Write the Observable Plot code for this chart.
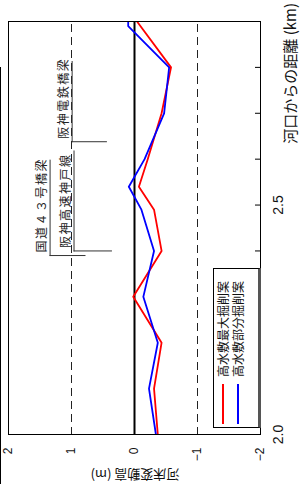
<!DOCTYPE html>
<html>
<head>
<meta charset="utf-8">
<script src="https://cdn.jsdelivr.net/npm/d3@7"></script>
<script src="https://cdn.jsdelivr.net/npm/@observablehq/plot@0.6"></script>
<style>
  html, body { margin: 0; padding: 0; background: #fff; overflow: hidden; }
  body { width: 301px; height: 484px; position: relative; }
  #wrap {
    position: absolute; left: 0; top: 0; width: 484px; height: 301px;
    transform-origin: 0 0; transform: translateY(484px) rotate(-90deg);
    font-family: "Noto Sans CJK JP", sans-serif; color: #111;
  }
  #chart { position: absolute; left: 0; top: 0; }
  g[aria-label="text"] text { letter-spacing: 1.5px; }
  .lbl { position: absolute; white-space: nowrap; font-family: "Noto Sans CJK JP", sans-serif; color: #111; }
  #legend {
    position: absolute; left: 56px; top: 213px; width: 158px; height: 44px;
    border: 1px solid #000; border-bottom: 3px solid #555; background: #fff;
  }
  .row { position: absolute; left: 3px; height: 14px; display: flex; align-items: center; }
  .sw { width: 40px; height: 0; border-top: 2.5px solid; margin-right: 7px; }
  .row span { font-size: 12px; line-height: 14px; }
  #outer { position: absolute; left: 0; top: 0; width: 417px; height: 0; border-top: 1.5px solid #000; }
</style>
</head>
<body>
<div id="wrap">
  <div id="outer"></div>
  <div id="chart"></div>
</div>
<script>
// distance from river mouth (km)
const maxCutKm   = [2.0, 2.1, 2.2, 2.3, 2.4, 2.49, 2.54, 2.6, 2.7, 2.8, 2.9];
const maxCutVal  = [-0.37, -0.31, -0.43, 0.02, -0.43, -0.31, -0.07, -0.21, -0.43, -0.58, -0.04];
const partCutKm  = [2.0, 2.1, 2.2, 2.3, 2.4, 2.49, 2.54, 2.6, 2.7, 2.8, 2.89, 2.95];
const partCutVal = [-0.34, -0.23, -0.37, -0.14, -0.31, -0.11, 0.09, -0.16, -0.47, -0.55, 0.10, 0.10];

const seriesNames = ["高水敷最大掘削案", "高水敷部分掘削案"];
const seriesColors = ["#ff0000", "#0000ff"];

const xTickValues = [2.0, 2.1, 2.2, 2.3, 2.4, 2.5, 2.6, 2.7, 2.8, 2.9];
const xTickLabels = [2.0, 2.5];
const yTickValues = [2, 1, 0, -1, -2];
const gridValues = [2, 1, -1, -2];

const bridgeNames = ["国道４３号橋梁", "阪神高速神戸線", "阪神電鉄橋梁"];
const bridgeKm = [2.39, 2.40, 2.638];
const bridgeLabelEndKm = [2.60, 2.62, 2.815];
const bridgeLabelLevel = [1.34, 0.96, 0.99];
const bridgeLeadEnd = [0.77, 0.35, 0.43];

const xLabel = "河口からの距離 (km)";
const yLabel = "河床変動高 (m)";

const maxData = maxCutKm.map((k, i) => ({km: k, v: maxCutVal[i]}));
const partData = partCutKm.map((k, i) => ({km: k, v: partCutVal[i]}));
const bridges = bridgeNames.map((n, i) => ({name: n, km: bridgeKm[i], end: bridgeLabelEndKm[i], level: bridgeLabelLevel[i], lead: bridgeLeadEnd[i]}));

const W = 484, H = 301, mt = 8, mb = 41, ml = 49, mr = 22;

const chart = Plot.plot({
  width: W, height: H,
  marginTop: mt, marginBottom: mb, marginLeft: ml, marginRight: mr,
  x: {domain: [2.0, 2.9]},
  y: {domain: [-2, 2]},
  style: {fontFamily: "'Liberation Sans', Arial, sans-serif", background: "transparent"},
  marks: [
    Plot.ruleY(gridValues, {stroke: "#222", strokeWidth: 1, strokeDasharray: "8,5"}),
    Plot.ruleY([0], {stroke: "#000", strokeWidth: 2}),
    Plot.ruleX(xTickValues, {stroke: "#000", strokeWidth: 1, insetTop: H - mt - mb - 5}),
    Plot.line(maxData, {x: "km", y: "v", stroke: seriesColors[0], strokeWidth: 1.8, clip: true}),
    Plot.line(partData, {x: "km", y: "v", stroke: seriesColors[1], strokeWidth: 1.8, clip: true}),
    Plot.ruleY(bridges, {y: "level", x1: "km", x2: "end", stroke: "#333", strokeWidth: 1}),
    Plot.ruleX(bridges, {x: "km", y1: "level", y2: "lead", stroke: "#333", strokeWidth: 1}),
    Plot.text(bridges, {x: "km", y: "level", text: "name", textAnchor: "start", lineAnchor: "bottom", dx: 3, dy: -4, fontSize: 12, fill: "#222", fontFamily: "'Noto Sans CJK JP', sans-serif"}),
    Plot.axisY({ticks: yTickValues, tickSize: 0, tickPadding: 13, fontSize: 12, label: null, tickFormat: d => d === 0 ? "0" : (d < 0 ? "−" + (-d) : String(d))}),
    Plot.axisX({ticks: xTickLabels, tickSize: 0, tickPadding: 13, fontSize: 14, label: null, tickFormat: d => d.toFixed(1)}),
    Plot.frame({stroke: "#000", strokeWidth: 1})
  ]
});
document.getElementById("chart").appendChild(chart);

const wrap = document.getElementById("wrap");
// y label (rotated)
const yl = document.createElement("div");
yl.className = "lbl";
yl.textContent = yLabel;
yl.style.fontSize = "13px";
yl.style.left = "9px";
yl.style.top = "135px";
yl.style.transform = "translate(-50%, -50%) rotate(-90deg)";
wrap.appendChild(yl);
// x label
const xl = document.createElement("div");
xl.className = "lbl";
xl.textContent = xLabel;
xl.style.fontSize = "15px";
xl.style.right = "3px";
xl.style.top = "280px";
xl.style.lineHeight = "19px";
wrap.appendChild(xl);
// legend
const lg = document.createElement("div");
lg.id = "legend";
seriesNames.forEach((n, i) => {
  const r = document.createElement("div");
  r.className = "row";
  r.style.top = (i === 0 ? 2 : 17) + "px";
  const sw = document.createElement("div");
  sw.className = "sw";
  sw.style.borderTopColor = seriesColors[i];
  const t = document.createElement("span");
  t.textContent = n;
  r.appendChild(sw); r.appendChild(t);
  lg.appendChild(r);
});
wrap.appendChild(lg);
</script>
</body>
</html>
